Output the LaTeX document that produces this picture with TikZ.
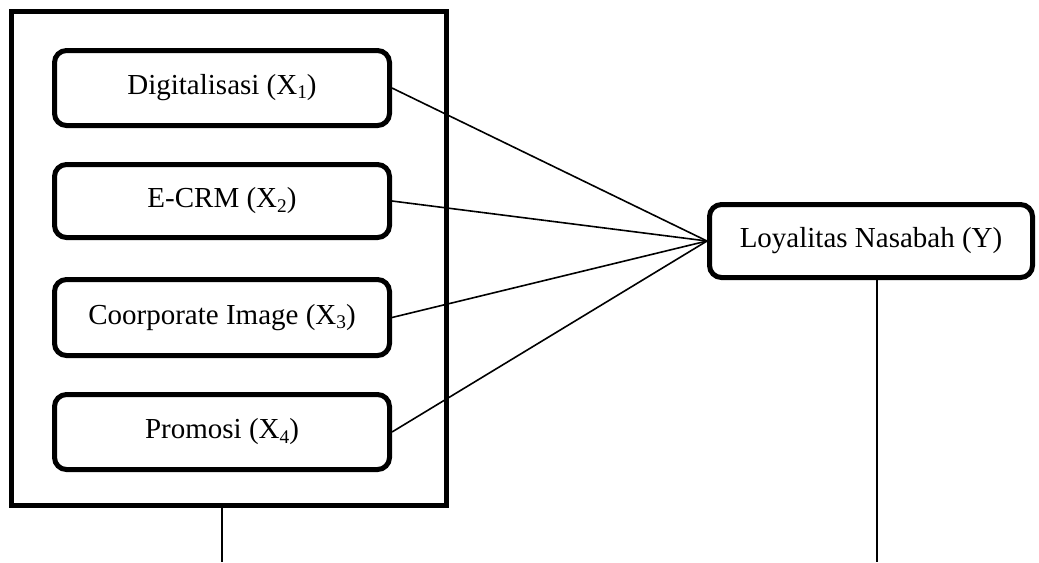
\documentclass[tikz,border=0pt]{standalone}
\usepackage{fontspec}
\setmainfont{Liberation Serif}
\newcommand\mysub[1]{\raisebox{-0.14em}{\fontsize{14.5}{14.5}\selectfont #1}}
\begin{document}
\begin{tikzpicture}[x=0.75pt,y=-0.75pt,
  varbox/.style={draw, line width=3.75pt, rounded corners=9pt, minimum width=335*0.75pt, minimum height=75*0.75pt, inner sep=0pt, font=\fontsize{21.75}{26}\selectfont},
  link/.style={line width=1.2pt}]
\useasboundingbox (0,0) rectangle (1039,562);
\node[draw, line width=3.75pt, minimum width=435*0.75pt, minimum height=493.5*0.75pt, inner sep=0pt] (outer) at (229,258.25) {};
\node[varbox] (b1) at (222,88) {Digitalisasi (X\mysub{1})};
\node[varbox, minimum height=73*0.75pt] (b2) at (222,201) {E-CRM (X\mysub{2})};
\node[varbox, minimum height=76*0.75pt] (b3) at (222,317.5) {Coorporate Image (X\mysub{3})};
\node[varbox] (b4) at (222,432) {Promosi (X\mysub{4})};
\node[varbox, minimum width=323*0.75pt, minimum height=73*0.75pt] (y) at (871,241) {Loyalitas Nasabah (Y)};
\coordinate (o1) at (222,507.5);
\coordinate (e1) at (222,562);
\coordinate (o2) at (877,279.5);
\coordinate (e2) at (877,562);
\foreach \b in {b1,b2,b3,b4} \draw[link] (\b.east) -- (y.west);
\draw[link] (o1) -- (e1);
\draw[link] (o2) -- (e2);
\end{tikzpicture}
\end{document}
